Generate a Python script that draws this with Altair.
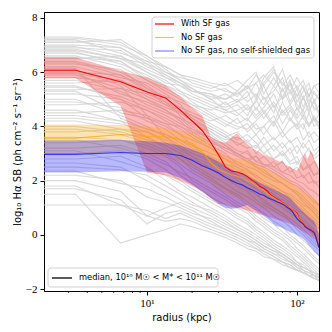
import altair as alt
import pandas as pd

# ---------------- data ----------------
RADIUS = [2.0, 3.33, 6.67, 10.0, 13.33, 16.67, 20.0, 23.33, 26.67, 30.0, 33.33, 36.67,
          40.0, 43.33, 46.67, 50.0, 53.33, 56.67, 60.0, 63.33, 66.67, 70.0, 73.33,
          76.67, 80.0, 83.33, 86.67, 90.0, 93.33, 96.67, 100.0, 103.33, 106.67, 110.0,
          113.33, 116.67, 120.0, 123.33, 126.67, 130.0, 133.33, 136.67, 140.0]

RED_MED = [6.07, 6.07, 5.65, 5.27, 5.05, 4.6, 4.2, 3.85, 3.4, 2.95, 2.5, 2.35, 2.32, 2.25,
           2.15, 2.02, 1.92, 1.78, 1.72, 1.62, 1.48, 1.4, 1.32, 1.27, 1.2, 1.12, 1.06, 0.98,
           0.92, 0.86, 0.8, 0.6, 0.47, 0.42, 0.32, 0.27, 0.23, 0.19, 0.15, 0.1, -0.05, -0.25, -0.45]
RED_LO = [5.78, 5.78, 4.75, 2.3, 2.2, 2.0, 1.8, 1.6, 1.35, 1.15, 1.1, 1.02, 1.0, 0.95, 0.9,
          0.85, 0.8, 0.76, 0.72, 0.68, 0.64, 0.6, 0.56, 0.53, 0.5, 0.47, 0.44, 0.41, 0.37,
          0.33, 0.28, 0.22, 0.16, 0.12, 0.08, 0.04, 0.0, -0.05, -0.1, -0.15, -0.2, -0.3, -0.5]
RED_HI = [6.55, 6.55, 6.05, 5.8, 5.5, 5.1, 4.7, 4.4, 3.6, 3.45, 3.4, 3.6, 3.75, 3.5, 3.35,
          3.2, 3.1, 3.05, 2.95, 2.9, 2.85, 2.8, 2.75, 2.7, 2.75, 2.6, 2.55, 2.5, 2.45, 2.4,
          2.38, 2.5, 2.7, 2.9, 3.0, 2.8, 2.9, 3.1, 3.0, 2.8, 2.7, 2.6, 2.4]

ORANGE_MED = [3.57, 3.57, 3.70, 3.63, 3.62, 3.52, 3.37, 3.1, 2.65, 2.42, 2.3, 2.22, 2.16,
              2.1, 2.0, 1.92, 1.82, 1.7, 1.64, 1.52, 1.44, 1.37, 1.3, 1.25, 1.18, 1.12, 1.05,
              1.0, 0.92, 0.85, 0.76, 0.58, 0.46, 0.41, 0.31, 0.26, 0.22, 0.18, 0.14, 0.09,
              -0.06, -0.26, -0.46]
ORANGE_LO = [3.0, 3.0, 3.05, 2.95, 2.85, 2.7, 2.5, 2.2, 1.9, 1.7, 1.55, 1.45, 1.38, 1.3,
             1.22, 1.15, 1.08, 1.0, 0.95, 0.9, 0.85, 0.8, 0.75, 0.7, 0.66, 0.62, 0.58, 0.54,
             0.5, 0.45, 0.4, 0.34, 0.28, 0.24, 0.2, 0.15, 0.1, 0.05, 0.0, -0.05, -0.12, -0.2, -0.35]
ORANGE_HI = [4.07, 4.07, 4.05, 4.0, 3.92, 3.85, 3.78, 3.62, 3.35, 3.05, 2.9, 2.85, 2.82,
             2.8, 2.75, 2.7, 2.62, 2.55, 2.5, 2.42, 2.35, 2.3, 2.25, 2.2, 2.12, 2.06, 2.02,
             1.98, 1.9, 1.82, 1.76, 1.7, 1.64, 1.6, 1.55, 1.5, 1.45, 1.4, 1.36, 1.32, 1.28,
             1.22, 1.15]

BLUE_MED = [2.97, 2.97, 3.04, 3.0, 3.0, 2.93, 2.75, 2.55, 2.42, 2.28, 2.12, 2.0, 1.9, 1.84,
            1.74, 1.66, 1.58, 1.5, 1.46, 1.38, 1.32, 1.28, 1.22, 1.18, 1.13, 1.08, 1.0, 0.95,
            0.85, 0.72, 0.6, 0.52, 0.45, 0.4, 0.3, 0.25, 0.21, 0.17, 0.13, 0.08, -0.07, -0.27, -0.47]
BLUE_LO = [2.3, 2.3, 2.35, 2.33, 2.3, 2.1, 1.85, 1.6, 1.35, 1.15, 1.0, 0.96, 0.98, 1.05,
           1.1, 1.0, 0.9, 0.8, 0.7, 0.6, 0.5, 0.4, 0.32, 0.3, 0.25, 0.2, 0.15, 0.1, 0.07,
           0.04, 0.0, -0.05, -0.1, -0.15, -0.22, -0.3, -0.38, -0.45, -0.52, -0.6, -0.66, -0.73, -0.8]
BLUE_HI = [3.48, 3.48, 3.5, 3.45, 3.4, 3.3, 3.15, 3.0, 2.85, 2.7, 2.55, 2.42, 2.32, 2.25,
           2.15, 2.08, 2.0, 1.92, 1.86, 1.8, 1.74, 1.68, 1.62, 1.58, 1.52, 1.48, 1.42, 1.36,
           1.28, 1.18, 1.08, 1.0, 0.92, 0.86, 0.78, 0.72, 0.66, 0.6, 0.55, 0.5, 0.38, 0.2, 0.0]

GRAY_R = [2.0, 3.33, 6.67, 10, 13.33, 16.67, 20, 26.67, 33.33, 40, 46.67, 53.33, 60, 70,
          80, 90, 100, 110, 120, 130, 143.3]
GRAY_LINES = [
    [7.3, 7.3, 7.1, 6.5, 6.0, 5.8, 5.7, 5.5, 5.3, 5.2, 5.4, 5.6, 5.9, 5.5, 6.1, 5.2, 5.5, 5.0, 5.4, 5.2, 5.0],
    [7.1, 7.1, 7.2, 6.6, 6.1, 5.7, 5.5, 5.3, 5.4, 5.1, 5.5, 5.0, 5.8, 6.2, 5.0, 5.6, 5.1, 5.5, 4.8, 5.3, 4.9],
    [6.9, 6.9, 6.8, 6.2, 5.9, 5.6, 5.4, 5.0, 5.2, 4.9, 5.1, 5.6, 5.0, 5.3, 5.8, 4.9, 5.4, 4.7, 5.2, 4.6, 4.8],
    [6.8, 6.8, 6.5, 6.0, 5.6, 5.5, 5.3, 5.2, 4.8, 5.0, 4.6, 4.9, 5.5, 4.7, 5.1, 5.6, 4.6, 5.1, 4.5, 5.0, 4.4],
    [6.7, 6.7, 6.4, 5.8, 5.5, 5.2, 5.0, 4.7, 4.5, 4.6, 4.8, 4.4, 4.7, 5.2, 4.5, 4.8, 5.2, 4.4, 4.8, 4.2, 4.5],
    [6.5, 6.5, 6.6, 6.0, 5.7, 5.3, 4.9, 4.5, 4.2, 4.0, 3.9, 4.2, 4.5, 4.0, 4.6, 4.2, 4.7, 4.3, 4.0, 4.4, 3.9],
    [6.4, 6.4, 6.0, 5.5, 5.0, 4.7, 4.5, 4.2, 4.4, 4.1, 4.3, 3.9, 4.0, 4.4, 3.8, 4.3, 3.9, 4.1, 3.6, 3.8, 3.5],
    [6.2, 6.2, 5.8, 5.6, 5.2, 4.8, 4.3, 3.8, 3.5, 3.6, 3.4, 3.7, 3.3, 3.6, 3.2, 3.5, 3.0, 3.4, 3.1, 2.9, 3.2],
    [6.1, 6.1, 5.5, 4.4, 3.6, 3.2, 3.0, 2.8, 2.6, 2.5, 2.3, 2.2, 2.0, 1.8, 1.6, 1.5, 1.3, 1.1, 1.0, 0.8, 0.6],
    [6.0, 6.0, 5.9, 5.4, 5.0, 4.6, 4.4, 4.0, 3.7, 3.3, 3.5, 3.0, 3.3, 2.8, 3.1, 2.7, 2.9, 2.4, 2.6, 2.2, 2.4],
    [5.9, 5.9, 5.4, 5.2, 4.9, 4.4, 4.0, 3.5, 3.2, 3.0, 2.8, 2.9, 2.6, 2.5, 2.3, 2.2, 2.0, 1.9, 1.7, 1.6, 1.4],
    [5.7, 5.7, 5.3, 4.8, 4.5, 4.3, 4.1, 3.8, 3.4, 3.1, 3.0, 2.7, 2.6, 2.4, 2.2, 2.0, 1.9, 1.7, 1.5, 1.3, 1.0],
    [5.5, 5.5, 5.0, 4.3, 4.0, 3.7, 3.5, 3.2, 2.9, 2.7, 2.5, 2.4, 2.2, 2.0, 1.9, 1.7, 1.5, 1.2, 1.0, 0.8, 0.5],
    [5.3, 5.3, 4.5, 4.3, 4.1, 4.0, 3.8, 3.6, 3.3, 3.0, 2.8, 2.6, 2.5, 2.3, 2.1, 1.9, 1.8, 1.6, 1.4, 1.2, 1.1],
    [5.0, 5.0, 4.4, 4.0, 3.6, 3.3, 3.0, 2.7, 2.4, 2.2, 2.0, 1.8, 1.6, 1.4, 1.3, 1.1, 0.9, 0.8, 0.6, 0.4, 0.2],
    [4.8, 4.8, 4.9, 4.6, 4.3, 4.0, 3.7, 3.3, 3.0, 2.6, 2.4, 2.1, 1.9, 1.7, 1.5, 1.3, 1.1, 0.9, 0.7, 0.5, 0.3],
    [4.6, 4.6, 4.2, 3.9, 3.7, 3.4, 3.1, 2.9, 2.6, 2.4, 2.2, 2.0, 1.7, 1.5, 1.2, 1.0, 0.8, 0.6, 0.4, 0.2, 0.0],
    [4.4, 4.4, 4.2, 3.6, 3.3, 3.0, 2.8, 2.5, 2.2, 1.9, 1.7, 1.5, 1.3, 1.0, 0.8, 0.6, 0.4, 0.2, 0.0, -0.2, -0.4],
    [4.2, 4.2, 3.9, 3.8, 3.5, 3.2, 2.9, 2.4, 2.1, 1.8, 1.6, 1.3, 1.1, 0.9, 0.7, 0.5, 0.2, 0.0, -0.2, -0.4, -0.6],
    [4.0, 4.0, 3.8, 3.5, 3.3, 3.0, 2.6, 2.2, 1.9, 1.6, 1.4, 1.2, 1.0, 0.7, 0.5, 0.3, 0.0, -0.2, -0.4, -0.6, -0.8],
    [3.8, 3.8, 3.9, 3.6, 3.2, 2.8, 2.5, 2.1, 1.7, 1.5, 1.2, 1.0, 0.8, 0.5, 0.3, 0.0, -0.2, -0.4, -0.6, -0.8, -1.0],
    [3.6, 3.6, 3.5, 3.3, 3.0, 2.6, 2.3, 1.9, 1.5, 1.2, 1.0, 0.7, 0.5, 0.2, 0.0, -0.2, -0.5, -0.7, -0.9, -1.1, -1.3],
    [3.4, 3.4, 3.5, 3.2, 2.9, 2.5, 2.0, 1.6, 1.3, 1.0, 0.8, 0.5, 0.3, 0.0, -0.2, -0.5, -0.7, -0.9, -1.1, -1.3, -1.5],
    [3.2, 3.2, 3.3, 3.0, 2.7, 2.2, 1.9, 1.4, 1.1, 0.8, 0.6, 0.3, 0.1, -0.2, -0.4, -0.6, -0.8, -1.0, -1.2, -1.4, -1.6],
    [3.0, 3.0, 3.1, 2.8, 2.4, 2.0, 1.7, 1.3, 1.0, 0.7, 0.5, 0.2, 0.0, -0.3, -0.5, -0.7, -1.0, -1.2, -1.3, -1.5, -1.7],
    [2.8, 2.8, 2.9, 2.5, 2.0, 1.6, 1.4, 1.0, 0.7, 0.4, 0.2, 0.0, -0.2, -0.5, -0.7, -0.9, -1.1, -1.3, -1.4, -1.5, -1.6],
    [2.5, 2.5, 2.4, 2.2, 1.8, 1.5, 1.2, 0.8, 0.5, 0.2, 0.0, -0.2, -0.4, -0.6, -0.8, -1.0, -1.2, -1.3, -1.5, -1.6, -1.7],
    [2.2, 2.2, 2.0, 1.4, 1.2, 1.0, 0.8, 0.6, 0.3, 0.1, -0.1, -0.3, -0.5, -0.7, -0.9, -1.0, -1.2, -1.4, -1.5, -1.5, -1.6],
    [2.0, 2.0, 1.6, 0.7, 1.0, 1.2, 1.0, 0.7, 0.4, 0.2, 0.0, -0.2, -0.4, -0.6, -0.7, -0.9, -1.1, -1.2, -1.3, -1.4, -1.5],
    [1.8, 1.8, 1.1, 0.9, 0.6, 0.8, 0.6, 0.3, 0.1, -0.1, -0.3, -0.5, -0.6, -0.8, -1.0, -1.1, -1.3, -1.4, -1.5, -1.6, -1.7],
    [1.5, 1.5, -0.3, 0.0, 0.2, 0.4, 0.3, 0.1, -0.1, -0.3, -0.5, -0.6, -0.8, -0.9, -1.1, -1.2, -1.3, -1.4, -1.5, -1.6, -1.7],
    [1.1, 1.1, 1.1, 0.7, 0.5, 0.6, 0.5, 0.2, 0.0, -0.2, -0.4, -0.5, -0.7, -0.9, -1.0, -1.2, -1.3, -1.4, -1.5, -1.6, -1.7],
    [7.0, 7.0, 6.9, 6.3, 5.8, 5.5, 5.2, 4.9, 4.7, 4.9, 5.3, 4.6, 5.1, 4.5, 5.4, 4.8, 4.4, 5.1, 4.6, 4.9, 4.3],
    [6.6, 6.6, 6.2, 5.7, 5.4, 5.1, 4.8, 4.6, 4.9, 4.5, 4.2, 4.7, 4.3, 4.8, 4.1, 4.6, 4.2, 3.9, 4.5, 4.0, 4.2],
    [6.3, 6.3, 6.1, 5.4, 5.1, 4.9, 4.7, 4.3, 4.0, 4.3, 3.8, 4.1, 3.7, 4.2, 3.6, 3.9, 4.1, 3.5, 3.8, 3.4, 3.6],
    [5.8, 5.8, 5.6, 5.0, 4.7, 4.5, 4.2, 3.9, 3.6, 3.8, 3.4, 3.2, 3.6, 3.1, 3.4, 3.0, 3.3, 2.9, 3.2, 2.8, 3.0],
    [7.2, 7.2, 6.7, 6.4, 6.2, 5.9, 5.6, 5.4, 5.6, 5.3, 5.7, 6.0, 5.2, 5.8, 5.3, 5.7, 4.9, 5.3, 5.6, 4.9, 5.3],
    [5.6, 5.6, 5.7, 5.3, 4.8, 4.6, 4.4, 4.1, 3.8, 3.5, 3.7, 3.4, 3.0, 3.3, 2.9, 3.2, 2.6, 2.9, 2.5, 2.7, 2.3],
    [6.0, 6.0, 5.2, 4.9, 4.6, 4.3, 3.9, 3.5, 3.1, 2.9, 3.1, 2.7, 2.9, 2.5, 2.7, 2.3, 2.5, 2.1, 2.3, 1.9, 2.0],
    [4.5, 4.5, 4.6, 4.4, 4.1, 3.7, 3.3, 2.8, 2.4, 2.1, 1.9, 1.7, 1.5, 1.2, 1.0, 0.8, 0.6, 0.4, 0.2, 0.0, -0.2],
    [7.25, 7.25, 7.0, 6.6, 6.2, 5.9, 5.8, 5.6, 5.5, 5.7, 5.4, 5.9, 5.5, 6.0, 5.6, 5.3, 5.8, 5.4, 5.1, 5.5, 5.2],
    [6.95, 6.95, 6.6, 6.1, 5.8, 5.6, 5.3, 5.1, 5.0, 5.3, 4.9, 5.2, 4.8, 5.5, 5.0, 5.3, 4.8, 4.6, 5.0, 4.7, 4.5],
    [6.75, 6.75, 6.3, 5.9, 5.5, 5.3, 5.1, 4.8, 4.6, 4.4, 4.7, 4.3, 4.6, 4.1, 4.9, 4.3, 4.0, 4.4, 4.1, 4.3, 3.8],
    [6.55, 6.55, 6.4, 5.7, 5.3, 5.0, 4.8, 4.4, 4.1, 3.9, 4.1, 3.7, 4.0, 3.5, 3.8, 3.4, 3.6, 3.2, 3.5, 3.1, 3.3],
    [6.35, 6.35, 5.9, 5.3, 4.9, 4.6, 4.3, 3.9, 3.6, 3.4, 3.2, 3.3, 3.0, 2.8, 3.0, 2.6, 2.7, 2.4, 2.5, 2.2, 2.3],
    [6.15, 6.15, 4.3, 3.9, 3.7, 3.5, 3.3, 3.0, 2.8, 2.6, 2.4, 2.2, 2.0, 1.8, 1.6, 1.4, 1.2, 1.0, 0.8, 0.6, 0.4],
    [5.95, 5.95, 5.7, 5.1, 4.8, 4.5, 4.2, 3.7, 3.3, 3.0, 2.8, 2.5, 2.4, 2.1, 1.9, 1.7, 1.5, 1.3, 1.1, 0.9, 0.7],
    [5.45, 5.45, 5.1, 4.7, 4.4, 4.1, 3.9, 3.6, 3.3, 2.9, 2.7, 2.5, 2.3, 2.1, 1.9, 1.7, 1.6, 1.4, 1.2, 1.0, 0.8],
    [5.2, 5.2, 5.0, 4.6, 4.2, 3.9, 3.6, 3.2, 2.8, 2.5, 2.2, 2.0, 1.8, 1.6, 1.4, 1.2, 1.0, 0.8, 0.6, 0.4, 0.2],
    [4.9, 4.9, 4.7, 4.2, 3.9, 3.5, 3.2, 2.8, 2.5, 2.2, 1.9, 1.7, 1.5, 1.3, 1.1, 0.9, 0.7, 0.5, 0.3, 0.1, -0.1],
    [4.3, 4.3, 4.1, 3.8, 3.4, 3.1, 2.9, 2.6, 2.3, 2.0, 1.7, 1.5, 1.2, 1.0, 0.8, 0.5, 0.3, 0.1, -0.1, -0.3, -0.5],
    [3.9, 3.9, 3.7, 3.4, 3.1, 2.8, 2.4, 2.0, 1.7, 1.4, 1.1, 0.9, 0.6, 0.4, 0.1, -0.1, -0.3, -0.5, -0.7, -0.9, -1.1],
    [3.5, 3.5, 3.2, 2.9, 2.6, 2.3, 2.1, 1.7, 1.4, 1.1, 0.9, 0.6, 0.4, 0.1, -0.1, -0.4, -0.6, -0.8, -1.0, -1.2, -1.4],
    [3.1, 3.1, 2.7, 2.4, 2.2, 1.9, 1.6, 1.2, 0.9, 0.6, 0.4, 0.1, -0.1, -0.4, -0.6, -0.8, -1.0, -1.1, -1.3, -1.4, -1.5],
    [2.65, 2.65, 2.5, 2.0, 1.6, 1.3, 1.1, 0.9, 0.6, 0.3, 0.1, -0.1, -0.3, -0.5, -0.7, -0.9, -1.1, -1.2, -1.3, -1.5, -1.6],
    [2.35, 2.35, 1.9, 1.7, 1.4, 1.1, 0.9, 0.5, 0.2, 0.0, -0.2, -0.4, -0.6, -0.8, -1.0, -1.1, -1.3, -1.4, -1.5, -1.6, -1.7],
    [1.7, 1.7, 1.3, 0.4, 0.8, 0.9, 0.7, 0.4, 0.2, 0.0, -0.2, -0.3, -0.5, -0.7, -0.8, -1.0, -1.1, -1.3, -1.4, -1.5, -1.6],
    [7.15, 7.15, 6.9, 6.4, 5.9, 5.6, 5.3, 5.2, 5.0, 5.2, 5.5, 5.1, 5.6, 6.1, 5.5, 5.9, 5.4, 5.7, 5.1, 5.5, 5.6],
    [6.85, 6.85, 6.5, 6.3, 6.0, 5.7, 5.4, 5.0, 4.6, 4.8, 4.4, 5.0, 4.5, 4.9, 4.4, 4.7, 4.3, 4.6, 4.0, 4.3, 4.1],
    [5.35, 5.35, 5.4, 5.0, 4.6, 4.2, 3.8, 3.4, 3.2, 3.0, 2.7, 2.9, 2.5, 2.7, 2.3, 2.5, 2.1, 2.2, 1.9, 2.0, 1.7],
]

SERIES_LABELS = ["With SF gas", "No SF gas", "No SF gas, no self-shielded gas"]
SERIES_COLORS = ["#ff0000", "#ffa500", "#0000ff"]
MEDIAN_LABEL = "median, 10¹⁰ M☉ < M* < 10¹¹ M☉"

X_TICKS = [10, 100]
X_MINOR = [3, 4, 5, 6, 7, 8, 9, 20, 30, 40, 50, 60, 70, 80, 90]
Y_TICKS = [-2, 0, 2, 4, 6, 8]

# ---------------- chart ----------------
W, H = 275, 279
xs = alt.Scale(type="log", domain=[2.057, 140.2], nice=False)
ys = alt.Scale(domain=[-2.07, 8.22], nice=False, zero=False)

x_axis = alt.Axis(values=X_TICKS, labelExpr="datum.value == 10 ? '10¹' : '10²'",
                  title="radius (kpc)", grid=False, tickSize=4, tickColor="black",
                  domainColor="black", labelColor="black", labelFont="Liberation Serif",
                  labelFontSize=11, labelPadding=2, titleFont="DejaVu Sans",
                  titleFontSize=10, titleFontWeight="normal", titleColor="black",
                  titleY=29, titleBaseline="alphabetic")
y_axis = alt.Axis(values=Y_TICKS, title="log₁₀ Hα SB (ph cm⁻² s⁻¹ sr⁻¹)", grid=False,
                  tickSize=4, tickColor="black", domainColor="black", labelColor="black",
                  labelFont="Liberation Serif", labelFontSize=11, labelPadding=3,
                  titleFont="DejaVu Sans", titleFontSize=10, titleFontWeight="normal",
                  titleColor="black", titleX=-22, titleY=H / 2)


def X(field="r"):
    return alt.X(f"{field}:Q", scale=xs, axis=x_axis)


def Y(field):
    return alt.Y(f"{field}:Q", scale=ys, axis=y_axis)


df = pd.DataFrame({"r": RADIUS, "red": RED_MED, "red_lo": RED_LO, "red_hi": RED_HI,
                   "orange": ORANGE_MED, "orange_lo": ORANGE_LO, "orange_hi": ORANGE_HI,
                   "blue": BLUE_MED, "blue_lo": BLUE_LO, "blue_hi": BLUE_HI})

gray_rows = []
for i, line in enumerate(GRAY_LINES):
    for r, v in zip(GRAY_R, line):
        gray_rows.append({"id": i, "r": r, "v": v})
gray_df = pd.DataFrame(gray_rows)

base = alt.Chart(df)
layers = []

layers.append(alt.Chart(gray_df).mark_line(color="#d3d3d3", opacity=0.85, strokeWidth=1.1,
                                           clip=True).encode(
    x=X(), y=Y("v"), detail="id:N"))

keys = ["red", "orange", "blue"]
for k, c, o in zip(keys, SERIES_COLORS, [0.28, 0.3, 0.28]):
    layers.append(base.mark_area(color=c, opacity=o, clip=True).encode(
        x=X(), y=Y(f"{k}_lo"), y2=alt.Y2(f"{k}_hi")))

med_opacity = [1.0, 0.75, 0.7]
for k, c, o in zip(keys, SERIES_COLORS, med_opacity):
    layers.append(base.mark_line(color=c, strokeWidth=1.1, opacity=o, clip=True).encode(
        x=X(), y=Y(k)))

# minor x ticks
minor_df = pd.DataFrame({"r": X_MINOR})
layers.append(alt.Chart(minor_df).mark_rule(color="black", strokeWidth=0.8).encode(
    x=X(), y=alt.value(H), y2=alt.value(H + 2)))

# legend (top right)
one = pd.DataFrame({"a": [0]})
layers.append(alt.Chart(one).mark_rect(fill="white", opacity=0.85, stroke="#cccccc",
                                       strokeWidth=1, cornerRadius=3).encode(
    x=alt.value(108), x2=alt.value(270), y=alt.value(5), y2=alt.value(46)))
row_y = [12, 25.5, 39]
for lab, c, yy, o in zip(SERIES_LABELS, SERIES_COLORS, row_y, [1.0, 0.7, 0.5]):
    layers.append(alt.Chart(one).mark_rule(color=c, strokeWidth=1.2, opacity=o).encode(
        x=alt.value(111), x2=alt.value(130), y=alt.value(yy)))
    layers.append(alt.Chart(pd.DataFrame({"t": [lab]})).mark_text(
        align="left", baseline="middle", font="DejaVu Sans", fontSize=8.3,
        color="black").encode(x=alt.value(137), y=alt.value(yy), text="t:N"))

# legend (bottom left)
layers.append(alt.Chart(one).mark_rect(fill="white", opacity=0.85, stroke="#cccccc",
                                       strokeWidth=1, cornerRadius=3).encode(
    x=alt.value(4), x2=alt.value(174), y=alt.value(256), y2=alt.value(275)))
layers.append(alt.Chart(one).mark_rule(color="black", strokeWidth=1.3).encode(
    x=alt.value(8), x2=alt.value(28), y=alt.value(266)))
layers.append(alt.Chart(pd.DataFrame({"t": [MEDIAN_LABEL]})).mark_text(
    align="left", baseline="middle", font="DejaVu Sans", fontSize=8.3,
    color="black").encode(x=alt.value(35), y=alt.value(266), text="t:N"))

chart = alt.layer(*layers).properties(
    width=W, height=H,
    autosize=alt.AutoSizeParams(type="none"),
    padding={"left": 36, "top": 4, "right": 5, "bottom": 33},
    background="white",
).configure_view(stroke="black", strokeWidth=1)

chart.save("out.html", embed_options={"renderer": "svg", "actions": False})
